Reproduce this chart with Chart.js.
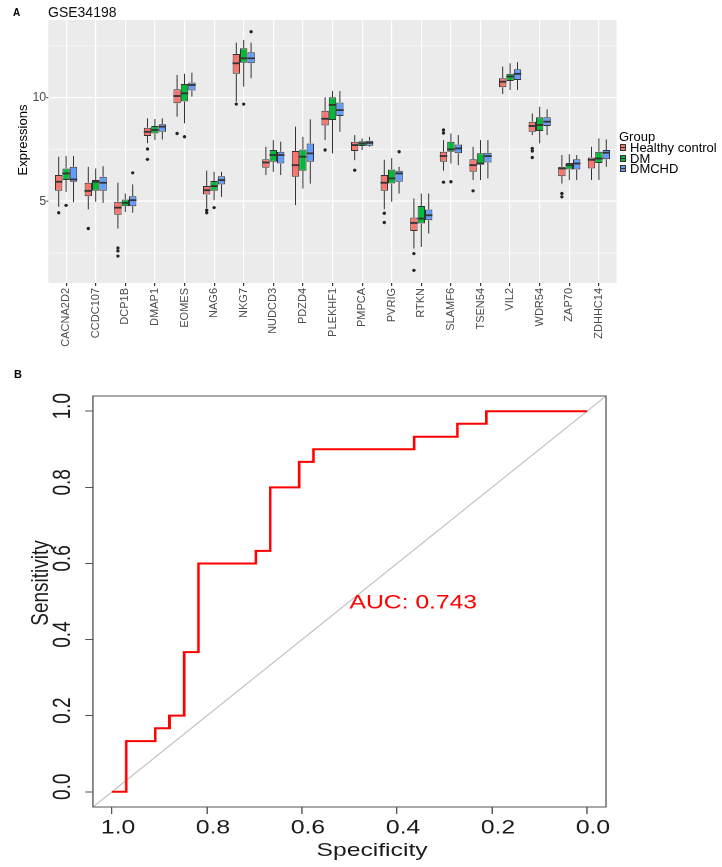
<!DOCTYPE html>
<html><head><meta charset="utf-8">
<script src="https://cdn.jsdelivr.net/npm/chart.js@4.4.1/dist/chart.umd.min.js"></script>
<style>
html,body{margin:0;padding:0;background:#fff;}
body{width:722px;height:867px;position:relative;overflow:hidden;font-family:"Liberation Sans",Arial,sans-serif;}
#wrapA{position:absolute;left:0;top:0;width:722px;height:350px;}
#wrapB{position:absolute;left:0;top:350px;width:556px;height:517px;transform:scaleX(1.29856);transform-origin:0 0;}
#wrapB canvas{position:absolute;left:0;top:0;}
.t{position:absolute;white-space:nowrap;color:#000;}
.key{position:absolute;left:620px;width:4px;height:5px;border:1px solid #333;}
.key:after{content:"";position:absolute;left:0;right:0;top:2px;height:1px;background:#333;}
#ytA{position:absolute;left:-27.5px;top:132px;width:100px;height:16px;line-height:16px;text-align:center;font-size:13px;color:#000;transform:rotate(-90deg);}
.tb{position:absolute;white-space:nowrap;text-align:center;font-size:19px;line-height:22px;height:22px;color:#1A1A1A;}
#xtB{left:226.5px;top:488.5px;width:120px;}
#ytB{left:-29.2px;top:222px;width:120px;transform:rotate(-90deg);}
</style>
</head><body>
<div id="wrapA"><canvas id="chartA" width="722" height="350"></canvas></div>
<div id="wrapB"><canvas id="chartB" width="556" height="517"></canvas>
  <div class="tb" id="xtB">Specificity</div>
  <div class="tb" id="ytB">Sensitivity</div>
</div>

<div class="t" style="left:13px;top:7.5px;font-size:10px;line-height:10px;font-weight:bold;">A</div>
<div class="t" style="left:48px;top:5px;font-size:14px;line-height:14px;color:#111;">GSE34198</div>
<div id="ytA">Expressions</div>
<div class="t" style="left:14px;top:369px;font-size:11px;line-height:11px;font-weight:bold;">B</div>

<div class="t" style="left:619px;top:130px;font-size:13px;line-height:13px;">Group</div>
<div class="key" style="top:144px;background:#F8766D;"></div>
<div class="t" style="left:630px;top:141px;font-size:13px;line-height:13px;">Healthy control</div>
<div class="key" style="top:154.5px;background:#00BA38;"></div>
<div class="t" style="left:630px;top:151.5px;font-size:13px;line-height:13px;">DM</div>
<div class="key" style="top:165px;background:#619CFF;"></div>
<div class="t" style="left:630px;top:162px;font-size:13px;line-height:13px;">DMCHD</div>

<script>
// ---------- Panel A data ----------
const genes = ['CACNA2D2','CCDC107','DCP1B','DMAP1','EOMES','NAG6','NKG7','NUDCD3','PDZD4','PLEKHF1','PMPCA','PVRIG','RTKN','SLAMF6','TSEN54','VIL2','WDR54','ZAP70','ZDHHC14'];
const groups = ['Healthy control','DM','DMCHD'];
const groupColors = ['#F8766D','#00BA38','#619CFF'];

const hcLo  = [4.73,4.60,3.68,7.80,9.08,4.65,9.80,6.26,4.81,7.95,6.98,4.61,2.71,6.47,6.02,10.18,8.19,5.85,6.02];
const hcQ1  = [5.50,5.24,4.35,8.15,9.73,5.32,11.15,6.61,6.18,8.66,7.42,5.50,3.56,6.90,6.42,10.50,8.35,6.21,6.58];
const hcMed = [5.94,5.50,4.69,8.35,10.08,5.53,11.66,6.87,6.74,8.98,7.71,5.89,3.95,7.18,6.74,10.77,8.63,6.58,7.00];
const hcQ3  = [6.26,5.89,4.97,8.55,10.40,5.74,12.11,7.03,7.42,9.37,7.87,6.26,4.21,7.39,7.02,10.94,8.84,6.66,7.11];
const hcHi  = [7.15,6.66,5.89,9.00,11.10,6.47,12.66,7.63,8.60,10.02,8.19,7.00,5.13,7.95,7.63,11.50,9.24,7.23,7.63];

const dmLo  = [5.45,4.97,4.48,7.95,8.76,5.05,10.53,6.42,5.61,7.31,7.47,4.97,2.79,6.82,6.02,10.37,7.79,6.02,6.02];
const dmQ1  = [6.02,5.50,4.76,8.27,9.81,5.50,11.69,6.90,6.47,8.92,7.66,5.85,3.92,7.39,6.77,10.81,8.39,6.53,6.85];
const dmMed = [6.34,5.94,4.92,8.44,10.21,5.73,11.90,7.23,7.15,9.65,7.79,6.10,4.16,7.50,6.82,11.02,8.68,6.74,7.06];
const dmQ3  = [6.58,6.02,5.08,8.63,10.66,5.97,12.39,7.47,7.50,10.02,7.90,6.53,4.77,7.87,7.31,11.15,9.05,6.85,7.39];
const dmHi  = [7.18,6.58,5.37,8.97,11.15,6.42,12.79,7.95,8.11,10.32,8.03,7.08,5.37,8.27,7.95,11.66,9.56,7.27,8.03];

const chdLo  = [4.95,4.92,4.44,7.98,10.05,5.21,10.94,6.26,5.85,8.35,7.63,5.37,3.44,6.74,6.10,10.37,8.19,6.02,6.66];
const chdQ1  = [5.94,5.50,4.76,8.35,10.34,5.81,11.66,6.82,6.90,9.11,7.68,5.94,4.08,7.31,6.87,10.85,8.63,6.53,7.03];
const chdMed = [6.05,5.89,5.05,8.60,10.61,6.02,11.90,7.23,7.31,9.40,7.82,6.34,4.32,7.55,7.18,11.15,8.84,6.82,7.34];
const chdQ3  = [6.66,6.18,5.24,8.71,10.73,6.21,12.19,7.39,7.79,9.77,7.92,6.47,4.60,7.74,7.34,11.37,9.05,7.02,7.47];
const chdHi  = [7.18,6.69,5.81,9.00,11.21,6.42,12.66,7.87,8.95,10.32,8.11,6.66,5.37,8.19,7.95,11.71,9.44,7.23,7.98];

// outliers: gene index, group index, value
const outGene  = [0,0,1,2,2,2,2,3,3,4,4,5,5,5,6,6,6,9,10,11,11,11,12,12,13,13,13,13,14,16,16,16,17,17];
const outGroup = [0,1,0,0,0,0,2,0,0,0,1,0,0,1,0,1,2,0,0,0,0,2,0,0,0,0,0,1,0,0,0,0,0,0];
const outVal   = [4.44,4.80,3.68,2.74,2.60,2.35,6.37,7.52,7.02,8.27,8.11,4.56,4.44,4.69,9.69,9.69,13.18,7.47,6.50,4.42,3.97,7.39,2.47,1.66,8.44,8.29,5.92,5.94,5.50,7.55,7.42,7.11,5.37,5.21];

const yTicksA = [2.5,5,7.5,10,12.5];
const yLabelA = [5,10];

// ---------- Panel B data ----------
const rocSpec = [1.000,0.970,0.909,0.879,0.848,0.818,0.697,0.667,0.606,0.576,0.364,0.273,0.212,0.000];
const rocSens = [0.000,0.133,0.167,0.200,0.367,0.600,0.633,0.800,0.867,0.900,0.933,0.967,1.000,1.000];
const ticksB = [0,0.2,0.4,0.6,0.8,1.0];
const aucText = 'AUC: 0.743';

const FONT = '"Liberation Sans", Arial, sans-serif';

// ---------- Panel A ----------
const boxStats = [
  {lo:hcLo,q1:hcQ1,med:hcMed,q3:hcQ3,hi:hcHi},
  {lo:dmLo,q1:dmQ1,med:dmMed,q3:dmQ3,hi:dmHi},
  {lo:chdLo,q1:chdQ1,med:chdMed,q3:chdQ3,hi:chdHi}
];

const panelBg = {
  id:'panelBg',
  beforeDraw(chart){
    const {ctx, chartArea:a, scales:{y}} = chart;
    const unit = (a.right - a.left) / genes.length;
    const L = a.left - 0.1*unit, R = a.right + 0.1*unit;
    ctx.save();
    ctx.fillStyle = '#EBEBEB';
    ctx.fillRect(L, a.top, R - L, a.bottom - a.top);
    y.ticks.forEach(t => {
      const py = y.getPixelForValue(t.value);
      const major = yLabelA.includes(t.value);
      ctx.strokeStyle = '#FFFFFF';
      ctx.lineWidth = major ? 1.2 : 0.6;
      ctx.beginPath(); ctx.moveTo(L, py); ctx.lineTo(R, py); ctx.stroke();
      if (major) {
        ctx.strokeStyle = '#333'; ctx.lineWidth = 1;
        ctx.beginPath(); ctx.moveTo(L - 2, py); ctx.lineTo(L, py); ctx.stroke();
      }
    });
    ctx.restore();
  }
};

const boxParts = {
  id:'boxParts',
  afterDatasetsDraw(chart){
    const {ctx, scales:{y}} = chart;
    ctx.save();
    ctx.strokeStyle = '#333';
    boxStats.forEach((s, di) => {
      const meta = chart.getDatasetMeta(di);
      meta.data.forEach((el, i) => {
        const x = el.x, hw = el.width / 2;
        ctx.lineWidth = 1;
        ctx.beginPath();
        ctx.moveTo(x, y.getPixelForValue(s.hi[i])); ctx.lineTo(x, y.getPixelForValue(s.q3[i]));
        ctx.moveTo(x, y.getPixelForValue(s.q1[i])); ctx.lineTo(x, y.getPixelForValue(s.lo[i]));
        ctx.stroke();
        ctx.lineWidth = 1.8;
        const pm = y.getPixelForValue(s.med[i]);
        ctx.beginPath(); ctx.moveTo(x - hw, pm); ctx.lineTo(x + hw, pm); ctx.stroke();
      });
    });
    ctx.fillStyle = '#222';
    outVal.forEach((v, k) => {
      const el = chart.getDatasetMeta(outGroup[k]).data[outGene[k]];
      ctx.beginPath();
      ctx.arc(el.x, y.getPixelForValue(v), 1.7, 0, Math.PI * 2);
      ctx.fill();
    });
    ctx.restore();
  }
};

const barSets = boxStats.map((s, gi) => ({
  label: groups[gi],
  data: s.q1.map((q, i) => [q, s.q3[i]]),
  backgroundColor: groupColors[gi],
  borderColor: '#333',
  borderWidth: 1,
  borderSkipped: false,
  categoryPercentage: 0.75,
  barPercentage: 1.0
}));

new Chart(document.getElementById('chartA'), {
  type:'bar',
  data:{ labels: genes, datasets: barSets },
  options:{
    responsive:false, animation:false, devicePixelRatio:1,
    layout:{ padding:{ left:0, top:20, right:108.3, bottom:0 } },
    plugins:{ legend:{display:false}, tooltip:{enabled:false} },
    scales:{
      x:{
        type:'category', offset:true,
        afterFit: s => { s.height = 67; },
        grid:{ offset:false, color:'#FFFFFF', lineWidth:1.2, drawTicks:true, tickLength:3, tickColor:'#333' },
        border:{ display:false },
        ticks:{ minRotation:90, maxRotation:90, autoSkip:false, padding:2, color:'#4D4D4D', font:{ family:FONT, size:11 } }
      },
      y:{
        type:'linear', min:1.05, max:13.75,
        afterBuildTicks: s => { s.ticks = yTicksA.map(v => ({value:v})); },
        afterFit: s => { s.width = 51.3; },
        grid:{ display:false, drawTicks:false },
        border:{ display:false },
        ticks:{ padding:5, color:'#4D4D4D', font:{ family:FONT, size:12.5 },
                callback: v => yLabelA.includes(v) ? String(v) : '' }
      }
    }
  },
  plugins:[panelBg, boxParts]
});

// ---------- Panel B ----------
const bMin = -0.04, bMax = 1.04;
const frameB = {
  id:'frameB',
  afterDraw(chart){
    const {ctx, chartArea:a} = chart;
    ctx.save();
    ctx.strokeStyle = '#555'; ctx.lineWidth = 1;
    ctx.strokeRect(a.left, a.top, a.right - a.left, a.bottom - a.top);
    ctx.restore();
  }
};
const aucLabel = {
  id:'aucLabel',
  afterDatasetsDraw(chart){
    const {ctx, scales:{x, y}} = chart;
    ctx.save();
    ctx.fillStyle = '#FF0000';
    ctx.font = '19px ' + FONT;
    ctx.textAlign = 'left'; ctx.textBaseline = 'middle';
    ctx.fillText(aucText, x.getPixelForValue(0.5), y.getPixelForValue(0.5) + 2);
    ctx.restore();
  }
};

new Chart(document.getElementById('chartB'), {
  type:'line',
  data:{ datasets:[
    { label:'ROC', data: rocSpec.map((s, i) => ({x:s, y:rocSens[i]})),
      borderColor:'#FF0000', borderWidth:2, stepped:'before', pointRadius:0, fill:false, order:1 },
    { label:'chance', data: [bMax, bMin].map(v => ({x:v, y:1 - v})),
      borderColor:'#BEBEBE', borderWidth:1, pointRadius:0, fill:false, order:2 }
  ]},
  options:{
    responsive:false, animation:false, devicePixelRatio:2,
    layout:{ padding:{ left:0, top:46, right:89.3, bottom:0 } },
    plugins:{ legend:{display:false}, tooltip:{enabled:false} },
    scales:{
      x:{
        type:'linear', reverse:true, min:bMin, max:bMax,
        afterBuildTicks: s => { s.ticks = ticksB.map(v => ({value:v})); },
        afterFit: s => { s.height = 60; },
        grid:{ drawOnChartArea:false, drawTicks:true, tickLength:7, tickColor:'#555' },
        border:{ display:false },
        ticks:{ padding:3, labelOffset:4.6, maxRotation:0, autoSkip:false, color:'#1A1A1A', font:{ family:FONT, size:19 },
                callback: v => Number(v).toFixed(1) }
      },
      y:{
        type:'linear', min:bMin, max:bMax,
        afterBuildTicks: s => { s.ticks = ticksB.map(v => ({value:v})); },
        afterFit: s => { s.width = 71.6; },
        grid:{ drawOnChartArea:false, drawTicks:true, tickLength:6, tickColor:'#555' },
        border:{ display:false },
        ticks:{ padding:3.5, labelOffset:-5, crossAlign:'center', minRotation:90, maxRotation:90, autoSkip:false, color:'#1A1A1A',
                font:{ family:FONT, size:19 }, callback: v => Number(v).toFixed(1) }
      }
    }
  },
  plugins:[frameB, aucLabel]
});
</script>
</body></html>
